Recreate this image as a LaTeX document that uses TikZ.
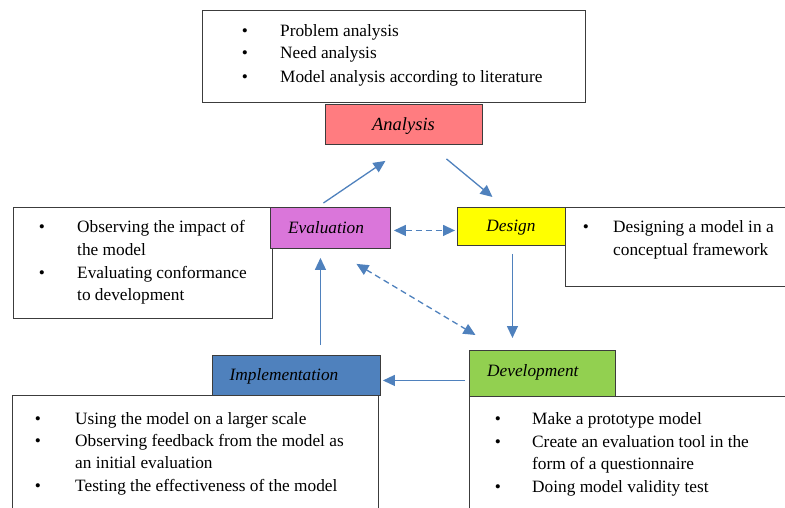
\documentclass[tikz,border=0pt]{standalone}
\usepackage{fontspec}
\setmainfont{Liberation Serif}
\usetikzlibrary{arrows.meta,calc}
\definecolor{arr}{RGB}{79,129,189}
\definecolor{cana}{RGB}{255,124,128}
\definecolor{ceva}{RGB}{218,118,218}
\definecolor{cdes}{RGB}{255,255,0}
\definecolor{cdev}{RGB}{146,208,80}
\definecolor{cimp}{RGB}{79,129,189}
\definecolor{bord}{RGB}{60,60,60}
\begin{document}
\begin{tikzpicture}[x=1pt,y=-1pt,
  every node/.style={font=\fontsize{17.3}{22}\selectfont},
  frame/.style={draw=bord,line width=0.9pt,inner sep=0pt,anchor=north west},
  lab/.style={font=\fontsize{17.3}{22}\selectfont\itshape,inner sep=0pt},
  bul/.style={anchor=base,inner sep=0pt},
  itm/.style={anchor=base west,inner sep=0pt},
  conn/.style={draw=arr,line width=1.3pt,-{Triangle[length=12pt,width=11pt]}},
  dconn/.style={draw=arr,line width=1.3pt,dash pattern=on 6pt off 4pt,{Triangle[length=12pt,width=11pt]}-{Triangle[length=12pt,width=11pt]}}]
\useasboundingbox (0,0) rectangle (785,508);
% top
\node[frame,minimum width=383pt,minimum height=92pt,fill=white] (topbox) at (202,10) {};
\node[bul] (tb1) at (245,37) {•};
\node[itm] (tt1) at (280,37) {Problem analysis};
\node[bul] (tb2) at (245,59) {•};
\node[itm] (tt2) at (280,59) {Need analysis};
\node[bul] (tb3) at (245,83) {•};
\node[itm] (tt3) at (280,83) {Model analysis according to literature};
\node[frame,minimum width=157pt,minimum height=40pt,fill=cana] (ana) at (325,104) {};
\node[lab,font=\fontsize{18.5}{22}\selectfont\itshape] (anal) at (403.5,126) {Analysis};
% evaluation
\node[frame,minimum width=259pt,minimum height=111pt,fill=white] (evbox) at (13,207) {};
\node[bul] (eb1) at (42,233) {•};
\node[itm] (et1) at (77,233) {Observing the impact of};
\node[itm] (et2) at (77,255) {the model};
\node[bul] (eb2) at (42,278) {•};
\node[itm] (et3) at (77,278) {Evaluating conformance};
\node[itm] (et4) at (77,300) {to development};
\node[frame,minimum width=120pt,minimum height=41pt,fill=ceva] (eva) at (270,207) {};
\node[lab] (eval) at (326,228) {Evaluation};
% design
\node[frame,minimum width=220pt,minimum height=79pt,fill=white] (dsbox) at (565,207) {};
\node[bul] (db1) at (586,233) {•};
\node[itm] (dt1) at (613,233) {Designing a model in a};
\node[itm] (dt2) at (613,255) {conceptual framework};
\node[frame,minimum width=108pt,minimum height=38pt,fill=cdes] (des) at (457,207) {};
\node[lab] (desl) at (511,228) {Design};
% development
\node[frame,minimum width=330pt,minimum height=130pt,fill=white] (dvbox) at (469,396) {};
\node[bul] (vb1) at (498,424) {•};
\node[itm] (vt1) at (532,424) {Make a prototype model};
\node[bul] (vb2) at (498,447) {•};
\node[itm] (vt2) at (532,447) {Create an evaluation tool in the};
\node[itm] (vt3) at (532,469) {form of a questionnaire};
\node[bul] (vb3) at (498,492) {•};
\node[itm] (vt4) at (532,492) {Doing model validity test};
\node[frame,minimum width=146pt,minimum height=46pt,fill=cdev] (dev) at (469,350) {};
\node[lab,anchor=west] (devl) at (487,372) {Development};
% implementation
\node[frame,minimum width=366pt,minimum height=130pt,fill=white] (imbox) at (12,395) {};
\node[bul] (ib1) at (38,424) {•};
\node[itm] (it1) at (75,424) {Using the model on a larger scale};
\node[bul] (ib2) at (38,446) {•};
\node[itm] (it2) at (75,446) {Observing feedback from the model as};
\node[itm] (it3) at (75,468) {an initial evaluation};
\node[bul] (ib3) at (38,491) {•};
\node[itm] (it4) at (75,491) {Testing the effectiveness of the model};
\node[frame,minimum width=168pt,minimum height=40pt,fill=cimp] (imp) at (212,355) {};
\node[lab] (impl) at (284,376) {Implementation};
% connectors
\draw[conn] ($(eva.north)+(-7,-4)$) -- ($(ana.south)+(-18.5,16)$);
\draw[conn] ($(ana.south)+(42.5,14)$) -- ($(des.north)+(-19,-10)$);
\draw[conn] ($(des.south)+(1,8)$) -- ($(dev.north)+(-30,-12)$);
\draw[conn] ($(dev.west)+(-4,7)$) -- ($(imp.east)+(2,5)$);
\draw[conn] ($(imp.north)+(24,-10)$) -- ($(eva.south)+(-10,9)$);
\draw[dconn] ($(eva.east)+(3,2.5)$) -- ($(des.west)+(-2,4)$);
\draw[dconn] ($(eva.south)+(26,15)$) -- ($(dev.north)+(-67,-15)$);
\end{tikzpicture}
\end{document}
